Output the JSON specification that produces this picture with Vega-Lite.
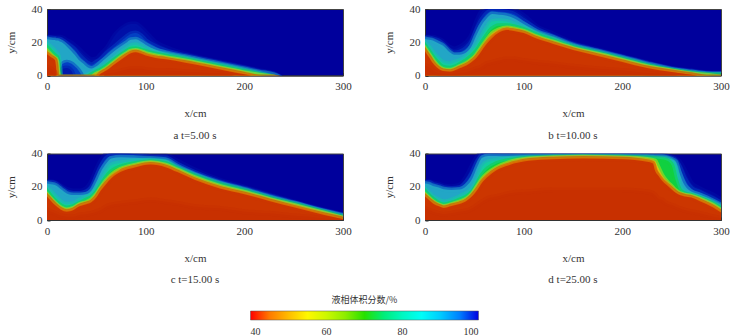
{"$schema":"https://vega.github.io/schema/vega-lite/v6.json","padding":{"left":4,"top":2,"right":2,"bottom":0},"background":"white",
"datasets":{"field":[
{"s":"a","x":0,"a":23,"b":22.5,"c":22,"d":19,"e":16.7,"f":14.7,"o":13.7,"g":12.8,"h":5},
{"s":"a","x":4,"a":23,"b":22.5,"c":21.5,"d":17,"e":14.3,"f":12.3,"o":11.6,"g":11,"h":4},
{"s":"a","x":8,"a":23,"b":22.3,"c":21.3,"d":14.5,"e":12,"f":10.2,"o":9.7,"g":9.3,"h":2},
{"s":"a","x":9,"a":23,"b":22.2,"c":21,"d":13.5,"e":11.5,"f":9.8,"o":8.8,"g":6,"h":-1},
{"s":"a","x":10,"a":23,"b":22,"c":21,"d":13,"e":11,"f":8,"o":4,"g":-1,"h":-1},
{"s":"a","x":11,"a":23,"b":22,"c":21,"m":-1,"n":-1,"d":12.5,"e":9,"f":2,"o":-1,"g":-1,"h":-1},
{"s":"a","x":12,"a":23,"b":22,"c":20.8,"m":1.5,"n":-1,"d":10,"e":3,"f":-1,"o":-1,"g":-1,"h":-1},
{"s":"a","x":13,"a":23,"b":21.8,"c":20.5,"m":3.5,"n":-1,"d":5,"e":-1,"f":-1,"o":-1,"g":-1,"h":-1},
{"s":"a","x":14,"a":23,"b":21.7,"c":20.3,"m":5,"n":1.5,"d":-1,"e":-1,"f":-1,"o":-1,"g":-1,"h":-1},
{"s":"a","x":16,"a":22.5,"b":21,"c":19.5,"m":7,"n":4,"d":-1,"e":-1,"f":-1,"o":-1,"g":-1,"h":-1},
{"s":"a","x":20,"a":21,"b":19.2,"c":17.5,"m":8,"n":4.5,"d":-1,"e":-1,"f":-1,"o":-1,"g":-1,"h":-1},
{"s":"a","x":25,"a":19.5,"b":17,"c":14.5,"m":7,"n":2.5,"d":-1,"e":-1,"f":-1,"o":-1,"g":-1,"h":-1},
{"s":"a","x":28,"a":18,"b":15.5,"c":12.5,"m":5.5,"n":-1,"d":-1,"e":-1,"f":-1,"o":-1,"g":-1,"h":-1},
{"s":"a","x":32,"a":16,"b":12.5,"c":9.5,"m":3,"n":-1,"d":-1,"e":-1,"f":-1,"o":-1,"g":-1,"h":-1},
{"s":"a","x":36,"a":13.5,"b":10,"c":7.5,"m":-1,"n":-1,"d":-1,"e":-1,"f":-1,"o":-1,"g":-1,"h":-1},
{"s":"a","x":41,"a":11,"b":7.5,"c":5,"d":0.3,"e":-1,"f":-1,"o":-1,"g":-1,"h":-1},
{"s":"a","x":45,"a":9.5,"b":6.5,"c":4.2,"d":1.5,"e":0.5,"f":-1,"o":-1,"g":-1,"h":-1},
{"s":"a","x":50,"a":10,"b":8,"c":5.5,"d":3.5,"e":2,"f":0.8,"o":0.4,"g":-1,"h":-1},
{"s":"a","x":55,"a":13,"b":10,"c":8,"d":5,"e":3.5,"f":2.2,"o":1.7,"g":1.3,"h":-1},
{"s":"a","x":60,"a":16,"b":13,"c":10.5,"d":7,"e":5.5,"f":4,"o":3.4,"g":3,"h":1},
{"s":"a","x":70,"a":25,"b":18,"c":15.5,"d":11.5,"e":10,"f":8.6,"o":8,"g":7.4,"h":2},
{"s":"a","x":80,"a":30,"b":23,"c":19.5,"d":16,"e":14,"f":12.8,"o":12.2,"g":11.6,"h":3.5},
{"s":"a","x":85,"a":31,"b":25,"c":21.5,"d":18,"e":15.8,"f":14.6,"o":14,"g":13.4,"h":4},
{"s":"a","x":90,"a":31,"b":25.5,"c":21.8,"d":18.5,"e":16,"f":15,"o":14.5,"g":14,"h":4},
{"s":"a","x":95,"a":29,"b":24,"c":20.5,"d":17.5,"e":15.3,"f":14.3,"o":13.8,"g":13.2,"h":4},
{"s":"a","x":100,"a":26,"b":21,"c":18.5,"d":16,"e":14.3,"f":13.2,"o":12.6,"g":12,"h":3.5},
{"s":"a","x":110,"a":20,"b":17.5,"c":15.5,"d":14,"e":12.8,"f":11.8,"o":11.2,"g":10.6,"h":3},
{"s":"a","x":120,"a":17,"b":15,"c":13.7,"d":12.8,"e":11.7,"f":10.7,"o":10.2,"g":9.7,"h":3},
{"s":"a","x":140,"a":13,"b":12,"c":11.3,"d":10.5,"e":9.6,"f":8.7,"o":8.2,"g":7.7,"h":2.3},
{"s":"a","x":160,"a":10,"b":9.5,"c":8.8,"d":8,"e":7.2,"f":6.4,"o":5.9,"g":5.4,"h":1.6},
{"s":"a","x":180,"a":7.5,"b":7,"c":6.4,"d":5.7,"e":4.9,"f":4,"o":3.5,"g":3,"h":1},
{"s":"a","x":200,"a":5,"b":4.5,"c":3.9,"d":3.2,"e":2.4,"f":1.6,"o":1.1,"g":0.7,"h":-1},
{"s":"a","x":215,"a":3,"b":2.5,"c":2,"d":1.3,"e":0.7,"f":0.2,"o":-1,"g":-1,"h":-1},
{"s":"a","x":230,"a":1.2,"b":0.8,"c":0.4,"d":-1,"e":-1,"f":-1,"o":-1,"g":-1,"h":-1},
{"s":"a","x":245,"a":-3,"b":-3,"c":-3,"d":-3,"e":-3,"f":-3,"o":-3,"g":-3,"h":-3},
{"s":"a","x":300,"a":-3,"b":-3,"c":-3,"d":-3,"e":-3,"f":-3,"o":-3,"g":-3,"h":-3},

{"s":"b","x":0,"a":23,"b":22.5,"c":22,"d":19.5,"e":17.8,"f":16,"o":15.2,"g":14.5,"h":6},
{"s":"b","x":4,"a":23,"b":22.5,"c":21.5,"d":17,"e":14.5,"f":12.5,"o":11.5,"g":11,"h":5},
{"s":"b","x":8,"a":23,"b":22,"c":21,"d":14,"e":11,"f":9,"o":8,"g":7.3,"h":3},
{"s":"b","x":13,"a":22,"b":21,"c":19.5,"d":10.5,"e":7.5,"f":5.5,"o":4.8,"g":4.3,"h":1.5},
{"s":"b","x":18,"a":20.5,"b":19,"c":18,"d":8,"e":5,"f":3.7,"o":3.1,"g":2.7,"h":1},
{"s":"b","x":25,"a":17,"b":15,"c":14,"d":7,"e":4.3,"f":3.1,"o":2.6,"g":2.2,"h":0.8},
{"s":"b","x":30,"a":16,"b":13.5,"c":12.5,"d":8,"e":5,"f":3.9,"o":3.4,"g":3,"h":1},
{"s":"b","x":35,"a":17,"b":14,"c":12.5,"d":9,"e":6.5,"f":5.3,"o":4.8,"g":4.3,"h":1.5},
{"s":"b","x":42,"a":20,"b":16.5,"c":14,"d":11.5,"e":9,"f":7.3,"o":6.6,"g":6,"h":2},
{"s":"b","x":47,"a":24,"b":20,"c":17.5,"d":14.5,"e":11.5,"f":9.3,"o":8.6,"g":8,"h":3},
{"s":"b","x":52,"a":32,"b":27,"c":24,"d":18,"e":14.5,"f":12.2,"o":11.4,"g":10.6,"h":4},
{"s":"b","x":57,"a":38,"b":33,"c":30,"d":23,"e":19,"f":16.5,"o":15.5,"g":14.5,"h":5},
{"s":"b","x":62,"a":40,"b":37,"c":34,"d":28,"e":23.5,"f":20.6,"o":19.6,"g":18.6,"h":7},
{"s":"b","x":68,"a":40,"b":39,"c":37,"d":32.5,"e":28,"f":25,"o":23.8,"g":22.6,"h":8},
{"s":"b","x":75,"a":40,"b":38.5,"c":36.5,"d":33,"e":30,"f":27.5,"o":26.6,"g":25.8,"h":9},
{"s":"b","x":83,"a":40,"b":38,"c":36,"d":32.5,"e":30,"f":28.6,"o":28,"g":27.3,"h":10},
{"s":"b","x":90,"a":39.5,"b":37,"c":34.5,"d":31,"e":29.3,"f":28,"o":27.4,"g":26.8,"h":10},
{"s":"b","x":100,"a":36,"b":33,"c":31,"d":29,"e":27.6,"f":26.5,"o":26,"g":25.5,"h":9},
{"s":"b","x":113,"a":29.5,"b":28,"c":26.5,"d":25.5,"e":24.5,"f":23.3,"o":22.8,"g":22.2,"h":8},
{"s":"b","x":130,"a":25,"b":23.5,"c":23,"d":22,"e":21,"f":20,"o":19.5,"g":19,"h":7},
{"s":"b","x":150,"a":19.5,"b":18.8,"c":18.3,"d":17.6,"e":16.9,"f":16.2,"o":15.8,"g":15.4,"h":5.5},
{"s":"b","x":175,"a":15.5,"b":15,"c":14.6,"d":14,"e":13.4,"f":12.8,"o":12.3,"g":11.8,"h":4},
{"s":"b","x":200,"a":11.6,"b":11.2,"c":10.8,"d":10.3,"e":9.7,"f":9.1,"o":8.6,"g":8.1,"h":3},
{"s":"b","x":225,"a":7.8,"b":7.4,"c":7,"d":6.4,"e":5.9,"f":5.3,"o":4.9,"g":4.5,"h":1.5},
{"s":"b","x":250,"a":4.4,"b":4.1,"c":3.7,"d":3.3,"e":3,"f":2.8,"o":2.5,"g":2.1,"h":0.5},
{"s":"b","x":270,"a":2.8,"b":2.5,"c":2.1,"d":1.7,"e":1.3,"f":0.9,"o":0.6,"g":0.4,"h":-1},
{"s":"b","x":285,"a":1.7,"b":1.4,"c":1.1,"d":0.8,"e":0.4,"f":0.1,"o":-1,"g":-1,"h":-1},
{"s":"b","x":300,"a":1.5,"b":1.2,"c":0.9,"d":0.6,"e":0.2,"f":-1,"o":-1,"g":-1,"h":-1},

{"s":"c","x":0,"a":23,"b":22.5,"c":22,"d":19,"e":17,"f":15.2,"o":14.6,"g":14.1,"h":6},
{"s":"c","x":4,"a":23,"b":22.5,"c":21.5,"d":17,"e":14,"f":12.5,"o":12,"g":11.5,"h":5},
{"s":"c","x":8,"a":22.5,"b":22,"c":21,"d":14.5,"e":11.5,"f":10,"o":9.5,"g":9,"h":4},
{"s":"c","x":14,"a":20.5,"b":19.5,"c":18.5,"d":11,"e":8.5,"f":7.2,"o":6.7,"g":6.2,"h":2.5},
{"s":"c","x":20,"a":18.5,"b":17,"c":16,"d":9.5,"e":7.2,"f":6,"o":5.5,"g":5,"h":2},
{"s":"c","x":27,"a":17.5,"b":16,"c":15,"d":10,"e":8,"f":7,"o":6.5,"g":6,"h":2},
{"s":"c","x":33,"a":17.5,"b":16,"c":15,"d":12,"e":10,"f":9.2,"o":8.7,"g":8.2,"h":3},
{"s":"c","x":40,"a":19,"b":17,"c":15.5,"d":14,"e":12,"f":10.5,"o":10,"g":9.5,"h":3.5},
{"s":"c","x":45,"a":23,"b":19.5,"c":17.5,"d":15.5,"e":13.5,"f":12,"o":11.3,"g":10.7,"h":4},
{"s":"c","x":50,"a":30,"b":26,"c":23,"d":19,"e":16.5,"f":15,"o":14.2,"g":13.5,"h":5},
{"s":"c","x":55,"a":36,"b":32.5,"c":29.5,"d":24,"e":21,"f":19.5,"o":18.8,"g":18,"h":6},
{"s":"c","x":60,"a":39.5,"b":37,"c":34,"d":29,"e":25.5,"f":23.5,"o":22.5,"g":21.7,"h":8},
{"s":"c","x":65,"a":40,"b":38.5,"c":37,"d":33,"e":29,"f":26.8,"o":25.9,"g":25,"h":9},
{"s":"c","x":75,"a":40,"b":39,"c":37.8,"d":34.5,"e":32,"f":30.6,"o":29.8,"g":29,"h":10},
{"s":"c","x":90,"a":39.5,"b":38.5,"c":37.5,"d":35.5,"e":34,"f":33,"o":32.4,"g":31.8,"h":11},
{"s":"c","x":105,"a":38.5,"b":37.8,"c":37,"d":36,"e":35,"f":34.5,"o":34,"g":33.4,"h":12},
{"s":"c","x":120,"a":38.5,"b":37.5,"c":36.3,"d":35,"e":34,"f":33,"o":32.4,"g":31.8,"h":11},
{"s":"c","x":132,"a":35.5,"b":33.5,"c":32.3,"d":31.4,"e":30.8,"f":30,"o":29.4,"g":28.8,"h":10},
{"s":"c","x":150,"a":30,"b":28.5,"c":27.5,"d":27,"e":26.3,"f":25.3,"o":24.7,"g":24,"h":8},
{"s":"c","x":175,"a":24,"b":23,"c":22.3,"d":21.8,"e":21.2,"f":20.2,"o":19.6,"g":19,"h":7},
{"s":"c","x":200,"a":19.8,"b":19,"c":18.4,"d":18,"e":17.4,"f":16.6,"o":16,"g":15.5,"h":5},
{"s":"c","x":225,"a":15.2,"b":14.6,"c":14,"d":13.6,"e":13,"f":12.4,"o":11.9,"g":11.5,"h":4},
{"s":"c","x":250,"a":11,"b":10.5,"c":10.2,"d":9.8,"e":9.3,"f":8.8,"o":8.2,"g":7.6,"h":2.5},
{"s":"c","x":280,"a":6.2,"b":5.8,"c":5.5,"d":5.1,"e":4.7,"f":4.2,"o":3.7,"g":3.2,"h":1},
{"s":"c","x":300,"a":3.2,"b":2.9,"c":2.6,"d":2.2,"e":1.6,"f":1.1,"o":0.8,"g":0.5,"h":-1},

{"s":"d","x":0,"a":23,"b":22.5,"c":22,"d":18.5,"e":17,"f":15.2,"o":14.6,"g":14.1,"h":7},
{"s":"d","x":4,"a":23,"b":22.5,"c":21.5,"d":16,"e":14.5,"f":13,"o":12.5,"g":12,"h":6},
{"s":"d","x":8,"a":22.5,"b":21.5,"c":20.5,"d":14,"e":12.5,"f":11,"o":10.5,"g":10,"h":5},
{"s":"d","x":14,"a":21.5,"b":20.5,"c":19.5,"d":12,"e":10,"f":9,"o":8.6,"g":8.2,"h":4},
{"s":"d","x":19,"a":20.5,"b":19.5,"c":18.5,"d":11,"e":9,"f":8.1,"o":7.6,"g":7.2,"h":3.5},
{"s":"d","x":27,"a":20,"b":19,"c":18,"d":12,"e":10.2,"f":9.3,"o":8.8,"g":8.4,"h":4},
{"s":"d","x":35,"a":21,"b":19.5,"c":18.3,"d":14,"e":12,"f":10.8,"o":10.2,"g":9.6,"h":5},
{"s":"d","x":42,"a":26,"b":23,"c":20.5,"d":16,"e":13.8,"f":12.6,"o":12,"g":11.4,"h":5.5},
{"s":"d","x":48,"a":33,"b":28.5,"c":25,"d":19,"e":16.8,"f":15.6,"o":15,"g":14.4,"h":7},
{"s":"d","x":53,"a":38,"b":35,"c":32,"d":25,"e":21.5,"f":20,"o":19,"g":18,"h":9},
{"s":"d","x":58,"a":40,"b":39,"c":37.5,"d":32,"e":27,"f":24.5,"o":23.6,"g":22.6,"h":11},
{"s":"d","x":64,"a":40,"b":39.5,"c":38.5,"d":35,"e":31,"f":28,"o":27.1,"g":26.2,"h":13},
{"s":"d","x":72,"a":40,"b":39.3,"c":38.5,"d":36,"e":33.8,"f":31.2,"o":30.4,"g":29.8,"h":14},
{"s":"d","x":85,"a":39.8,"b":39,"c":38.3,"d":37,"e":35.8,"f":34.5,"o":33.8,"g":33,"h":16},
{"s":"d","x":105,"a":39.5,"b":38.8,"c":38.3,"d":37.8,"e":37.2,"f":36.7,"o":36.2,"g":35.6,"h":17},
{"s":"d","x":130,"a":39.3,"b":38.8,"c":38.4,"d":38,"e":37.7,"f":37.4,"o":37,"g":36.6,"h":18},
{"s":"d","x":160,"a":39.3,"b":38.8,"c":38.5,"d":38.2,"e":37.9,"f":37.7,"o":37.4,"g":37,"h":18},
{"s":"d","x":200,"a":39.3,"b":38.8,"c":38.4,"d":38,"e":37.7,"f":37.3,"o":37,"g":36.6,"h":18},
{"s":"d","x":225,"a":39.2,"b":38.6,"c":38.2,"d":37.8,"e":37.3,"f":36.4,"o":35.8,"g":35,"h":17},
{"s":"d","x":231,"a":39,"b":38.4,"c":38,"d":37.7,"e":37,"f":35.8,"o":35,"g":34,"h":16},
{"s":"d","x":233,"a":39,"b":38.3,"c":38,"d":37.5,"e":37,"f":35.5,"o":32,"g":30,"h":15},
{"s":"d","x":236,"a":39,"b":38.3,"c":38,"d":37.5,"e":36.8,"f":32,"o":29,"g":27,"h":13},
{"s":"d","x":240,"a":38.8,"b":38.3,"c":38,"d":37.3,"e":36.5,"f":27,"o":25,"g":23.8,"h":12},
{"s":"d","x":245,"a":38.5,"b":38,"c":37.5,"d":37,"e":35.8,"f":23,"o":22,"g":21,"h":10},
{"s":"d","x":250,"a":38,"b":37.2,"c":36.5,"d":35.5,"e":33,"f":20,"o":19,"g":18.4,"h":9},
{"s":"d","x":254,"a":37,"b":36,"c":35,"d":32,"e":24,"f":17.6,"o":16.8,"g":16.4,"h":8},
{"s":"d","x":258,"a":35,"b":32,"c":28,"d":21,"e":18,"f":16,"o":15.5,"g":15.1,"h":7},
{"s":"d","x":263,"a":30,"b":25,"c":21,"d":17,"e":15.8,"f":15,"o":14.6,"g":14.2,"h":6},
{"s":"d","x":270,"a":22,"b":19,"c":17,"d":15.5,"e":14.8,"f":14.2,"o":13.8,"g":13.5,"h":5},
{"s":"d","x":278,"a":19,"b":16.8,"c":15.2,"d":14,"e":13.2,"f":12.6,"o":12,"g":11.5,"h":4},
{"s":"d","x":285,"a":17,"b":14.8,"c":13.5,"d":12.3,"e":11.5,"f":10.8,"o":10.2,"g":9.6,"h":3},
{"s":"d","x":292,"a":15,"b":12.8,"c":11.5,"d":10.5,"e":9.6,"f":8.8,"o":8.2,"g":7.5,"h":2},
{"s":"d","x":300,"a":12,"b":10.2,"c":9,"d":8,"e":6.8,"f":5.6,"o":5,"g":4.5,"h":1}
]},
"data":{"name":"field"},
"bounds":"flush","columns":2,"spacing":{"column":82,"row":77.5},
"concat":[
{"width":296,"height":66.5,"title":{"text":"a t=5.00 s"},"view":{"fill":"#00009c","stroke":"#444","strokeWidth":1},
 "transform":[{"filter":"datum.s=='a'"},{"fold":["a","b","c","m","n","d","e","f","o","g","h"],"as":["lev","top"]}],
 "layer":[
 {"mark":{"type":"area","interpolate":"monotone","clip":true,"strokeOpacity":0.5},"encoding":{"x":{"field":"x","type":"quantitative","scale":{"domain":[0,300],"nice":false},"axis":{"values":[0,100,200,300],"title":"x/cm"}},"y":{"field":"top","type":"quantitative","stack":null,"scale":{"domain":[0,40],"nice":false},"axis":{"values":[0,20,40],"title":"y/cm"}},"y2":{"datum":-4},"fill":{"field":"lev","type":"nominal","legend":null,"scale":{"domain":["a","b","c","m","n","d","e","f","o","g","h"],"range":["#0010a8","#0340c4","#22a6c6","#0340c4","#0018ac","#14cca0","#10d040","#c8e018","#e8a000","#cc3600","#c83000"]}},"stroke":{"field":"lev","type":"nominal","legend":null,"scale":{"domain":["a","b","c","m","n","d","e","f","o","g","h"],"range":["#0010a8","#0340c4","#22a6c6","#0340c4","#0018ac","#14cca0","#10d040","#c8e018","#e8a000","#cc3600","#c83000"]}},"strokeWidth":{"field":"lev","type":"ordinal","legend":null,"scale":{"domain":["a","b","c","m","n","d","e","f","o","g","h"],"range":[5,5,5,3,3,3,2,1,1,1.5,6]}}}},
 {"data":{"values":[{"v":40},{"v":100}]},"transform":[],"mark":{"type":"point","filled":true,"size":0,"opacity":1},"encoding":{"color":{"field":"v","type":"quantitative","scale":{"domain":[40,55.6,70.5,86,100],"range":["#ff0000","#ffff00","#00e000","#00ffff","#0000e0"]},"legend":{"title":"液相体积分数/%","orient":"none","legendX":203.5,"legendY":287,"direction":"horizontal","gradientLength":228,"gradientThickness":9,"values":[40,60,80,100],"titleAnchor":"middle","titleOrient":"top","labelOffset":7,"titleFont":"Noto Sans CJK SC","titleFontSize":9,"titleFontWeight":"normal","titleColor":"#333","labelFont":"Liberation Serif","labelFontSize":10,"labelColor":"#333","gradientStrokeColor":"#555","gradientStrokeWidth":0.5,"titlePadding":6,"encode":{"labels":{"update":{"align":{"value":"center"}}}}}}}}
 ]},
{"width":296,"height":66.5,"title":{"text":"b t=10.00 s"},
 "transform":[{"filter":"datum.s=='b'"},{"fold":["a","b","c","m","n","d","e","f","o","g","h"],"as":["lev","top"]}],
 "mark":{"type":"area","interpolate":"monotone","clip":true,"strokeOpacity":0.5},"encoding":{"x":{"field":"x","type":"quantitative","scale":{"domain":[0,300],"nice":false},"axis":{"values":[0,100,200,300],"title":"x/cm"}},"y":{"field":"top","type":"quantitative","stack":null,"scale":{"domain":[0,40],"nice":false},"axis":{"values":[0,20,40],"title":"y/cm"}},"y2":{"datum":-4},"fill":{"field":"lev","type":"nominal","legend":null},"stroke":{"field":"lev","type":"nominal","legend":null},"strokeWidth":{"field":"lev","type":"ordinal","legend":null}}},
{"width":296,"height":66.5,"title":{"text":"c t=15.00 s"},
 "transform":[{"filter":"datum.s=='c'"},{"fold":["a","b","c","m","n","d","e","f","o","g","h"],"as":["lev","top"]}],
 "mark":{"type":"area","interpolate":"monotone","clip":true,"strokeOpacity":0.5},"encoding":{"x":{"field":"x","type":"quantitative","scale":{"domain":[0,300],"nice":false},"axis":{"values":[0,100,200,300],"title":"x/cm"}},"y":{"field":"top","type":"quantitative","stack":null,"scale":{"domain":[0,40],"nice":false},"axis":{"values":[0,20,40],"title":"y/cm"}},"y2":{"datum":-4},"fill":{"field":"lev","type":"nominal","legend":null},"stroke":{"field":"lev","type":"nominal","legend":null},"strokeWidth":{"field":"lev","type":"ordinal","legend":null}}},
{"width":296,"height":66.5,"title":{"text":"d t=25.00 s"},
 "transform":[{"filter":"datum.s=='d'"},{"fold":["a","b","c","m","n","d","e","f","o","g","h"],"as":["lev","top"]}],
 "mark":{"type":"area","interpolate":"monotone","clip":true,"strokeOpacity":0.5},"encoding":{"x":{"field":"x","type":"quantitative","scale":{"domain":[0,300],"nice":false},"axis":{"values":[0,100,200,300],"title":"x/cm"}},"y":{"field":"top","type":"quantitative","stack":null,"scale":{"domain":[0,40],"nice":false},"axis":{"values":[0,20,40],"title":"y/cm"}},"y2":{"datum":-4},"fill":{"field":"lev","type":"nominal","legend":null},"stroke":{"field":"lev","type":"nominal","legend":null},"strokeWidth":{"field":"lev","type":"ordinal","legend":null}}}
],
"config":{"view":{"fill":"#00009c","stroke":"#444","strokeWidth":1},
"title":{"orient":"bottom","font":"Liberation Serif","fontSize":11,"fontWeight":"normal","color":"#333","offset":11,"anchor":"middle"},
"axis":{"grid":false,"zindex":1,"labelFlush":false,"domainColor":"#333","tickColor":"#333","tickSize":-3,"labelFont":"Liberation Serif","labelFontSize":11,"labelColor":"#333","labelPadding":8,"titleFont":"Liberation Serif","titleFontSize":11,"titleFontWeight":"normal","titleColor":"#333","titlePadding":16},
"axisY":{"titlePadding":15}}
}
